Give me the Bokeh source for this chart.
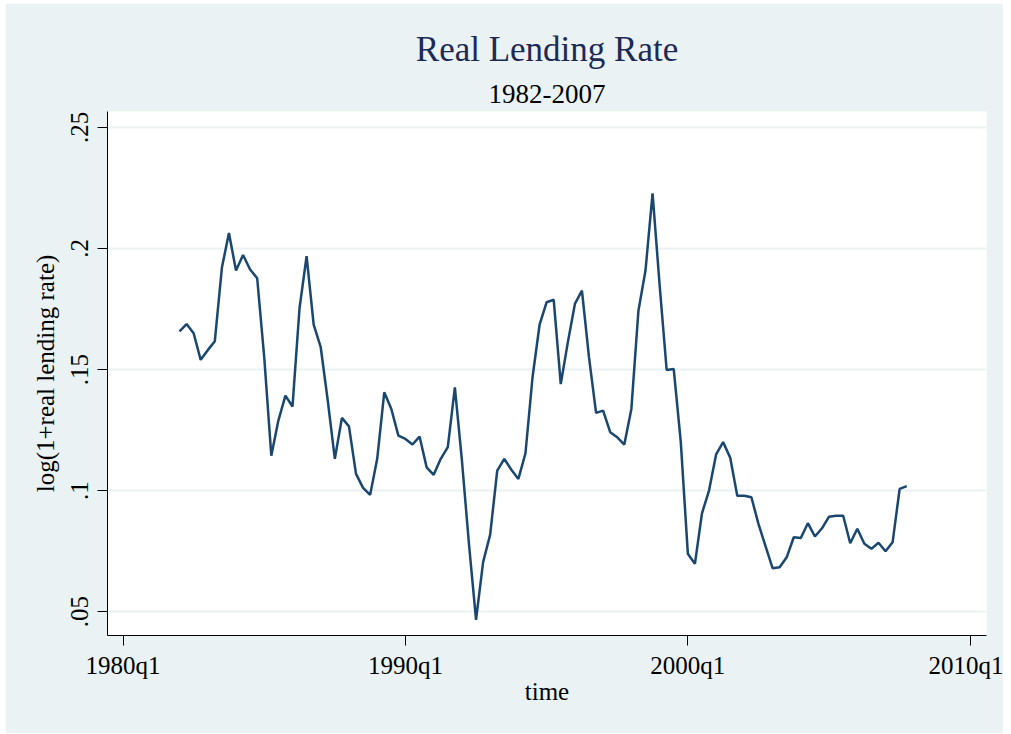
from bokeh.plotting import figure
from bokeh.models import Range1d, FixedTicker, Title
from bokeh.embed import file_html
from bokeh.resources import INLINE

# Quarterly series 1982q1..2007q4
start_year = 1982
values = [
    0.1658, 0.1688, 0.1650, 0.1540,   # 1982
    0.1580, 0.1617, 0.1920, 0.2064,   # 1983
    0.1909, 0.1973, 0.1913, 0.1877,   # 1984
    0.1550, 0.1144, 0.1289, 0.1392,   # 1985
    0.1347, 0.1754, 0.1968, 0.1685,   # 1986
    0.1592, 0.1371, 0.1131, 0.1300,   # 1987
    0.1265, 0.1069, 0.1011, 0.0982,   # 1988
    0.1131, 0.1406, 0.1337, 0.1227,   # 1989
    0.1213, 0.1190, 0.1223, 0.1096,   # 1990
    0.1065, 0.1131, 0.1179, 0.1426,   # 1991
    0.1124, 0.0778, 0.0466, 0.0704,   # 1992
    0.0818, 0.1082, 0.1131, 0.1086,   # 1993
    0.1048, 0.1154, 0.1468, 0.1685,   # 1994
    0.1778, 0.1788, 0.1440, 0.1612,   # 1995
    0.1771, 0.1826, 0.1550, 0.1321,   # 1996
    0.1330, 0.1241, 0.1220, 0.1190,   # 1997
    0.1337, 0.1743, 0.1909, 0.2228,   # 1998
    0.1850, 0.1498, 0.1502, 0.1200,   # 1999
    0.0739, 0.0697, 0.0906, 0.1000,   # 2000
    0.1149, 0.1200, 0.1135, 0.0978,   # 2001
    0.0978, 0.0972, 0.0862, 0.0770,   # 2002
    0.0679, 0.0683, 0.0724, 0.0807,   # 2003
    0.0804, 0.0865, 0.0810, 0.0844,   # 2004
    0.0892, 0.0896, 0.0896, 0.0782,   # 2005
    0.0842, 0.0780, 0.0759, 0.0784,   # 2006
    0.0749, 0.0786, 0.1007, 0.1018,   # 2007
]
x_tick_years = [1980, 1990, 2000, 2010]
y_ticks = [0.05, 0.10, 0.15, 0.20, 0.25]
y_tick_labels = [".05", ".1", ".15", ".2", ".25"]

# Stata-style quarterly time index: quarters since 1960q1
def tq(year, q):
    return (year - 1960) * 4 + (q - 1)

t = [tq(start_year, 1) + i for i in range(len(values))]
x_ticks = [tq(y, 1) for y in x_tick_years]

FONT = "Liberation Serif"
BG = "#EAF2F3"

p = figure(width=998, height=730, margin=(3, 0, 0, 5),
           output_backend="svg", toolbar_location=None,
           x_range=Range1d(77.8, 202.3), y_range=Range1d(0.0401, 0.2566),
           min_border_left=102, min_border_right=17, min_border_top=108, min_border_bottom=98,
           background_fill_color="white", border_fill_color=BG, outline_line_color=None)

p.add_layout(Title(text="1982-2007", align="center", text_font=FONT, text_font_size="27px",
                   text_font_style="normal", text_color="black", standoff=18), "above")
p.add_layout(Title(text="Real Lending Rate", align="center", text_font=FONT, text_font_size="35px",
                   text_font_style="normal", text_color="#1c2a55"), "above")

p.line(t, values, line_color="#1a476f", line_width=2.5)

xa = p.xaxis[0]
xa.ticker = FixedTicker(ticks=x_ticks)
xa.major_label_overrides = {x_ticks[i]: f"{x_tick_years[i]}q1" for i in range(len(x_ticks))}
xa.axis_label = "time"

ya = p.yaxis[0]
ya.ticker = FixedTicker(ticks=y_ticks)
ya.major_label_overrides = {y_ticks[i]: y_tick_labels[i] for i in range(len(y_ticks))}
ya.major_label_orientation = "vertical"
ya.axis_label = "log(1+real lending rate)"

for ax in (xa, ya):
    ax.axis_line_color = "black"
    ax.axis_line_width = 1
    ax.major_tick_line_color = "black"
    ax.major_tick_out = 10
    ax.major_tick_in = 0
    ax.minor_tick_line_color = None
    ax.major_label_text_font = FONT
    ax.major_label_text_font_size = "25px"
    ax.major_label_text_color = "black"
    ax.axis_label_text_font = FONT
    ax.axis_label_text_font_size = "25px"
    ax.axis_label_text_font_style = "normal"
    ax.axis_label_text_color = "black"

xa.major_label_standoff = 6
xa.axis_label_standoff = -4
ya.major_label_standoff = 9
ya.axis_label_standoff = 10

p.xgrid.grid_line_color = None
p.ygrid.ticker = FixedTicker(ticks=y_ticks)
p.ygrid.grid_line_color = BG
p.ygrid.grid_line_width = 2

open("out.html", "w").write(file_html(p, INLINE))
